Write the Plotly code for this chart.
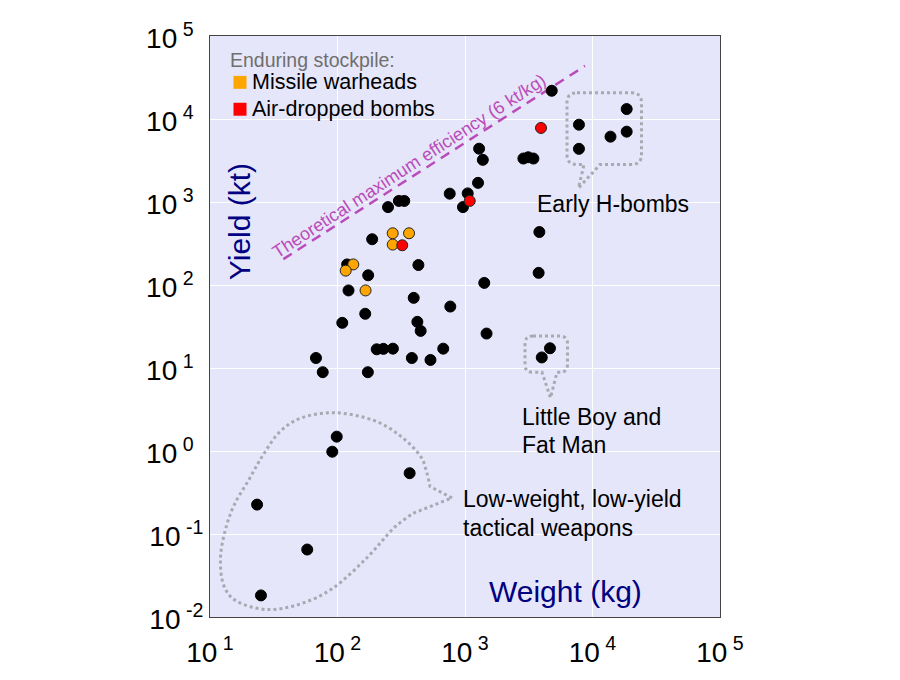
import plotly.graph_objects as go

# ---------------- data ----------------
black_weight_kg = [4790, 7830, 7830, 13840, 18540, 18540, 1290, 1380, 2870, 3130, 3440,
                   1265, 759, 1050, 964, 249, 303, 334, 3830, 3780, 187,
                   119, 174, 431, 122, 1416, 396, 767, 165, 109, 423,
                   449, 1476, 203, 229, 272, 675, 4640, 4000, 67.8, 383,
                   536, 76.6, 173, 98.6, 91.0, 368, 23.4, 57.9, 25.1]
black_yield_kt = [21900, 8540, 4370, 6130, 13180, 7040, 4390, 3220, 3340, 3460, 3340,
                  1700, 1260, 1270, 868, 868, 1030, 1030, 435, 140, 356,
                  177, 131, 174, 86, 106, 70, 55, 45, 35, 36,
                  28, 26, 16.8, 17.0, 17.1, 17.1, 17.3, 13.4, 13.2, 13.2,
                  12.5, 8.9, 8.9, 1.49, 0.98, 0.54, 0.226, 0.065, 0.0182]
missile_weight_kg = [271, 364, 271, 133, 116, 166]
missile_yield_kt = [420, 420, 307, 177, 149, 86]
bomb_weight_kg = [3945, 1089, 322]
bomb_yield_kt = [7800, 1030, 301]
limit_weight_kg = [37.6, 8730]
limit_yield_kt = [205, 43600]

x_tickvals = [10, 100, 1000, 10000, 100000]
x_ticktext = ["10<sup> 1</sup>", "10<sup> 2</sup>", "10<sup> 3</sup>", "10<sup> 4</sup>", "10<sup> 5</sup>"]
y_tickvals = [0.01, 0.1, 1, 10, 100, 1000, 10000, 100000]
y_ticktext = ["10<sup> -2</sup>", "10<sup> -1</sup>", "10<sup> 0\u2002</sup>", "10<sup> 1\u2002</sup>",
              "10<sup> 2\u2002</sup>", "10<sup> 3\u2002</sup>", "10<sup> 4\u2002</sup>", "10<sup> 5\u2002</sup>"]

# ---------------- layout geometry ----------------
W, H = 900, 680
ML, MR, MT, MB = 210, 180, 36, 61
PW, PH = W - ML - MR, H - MT - MB
FONT = "Liberation Sans, Arial, sans-serif"
NAVY = "#000080"
MAG = "#b94cb9"
DOTC = "#a9a9b2"


def xp(px):
    return (px - ML) / PW


def yp(py):
    return (H - MB - py) / PH


def P(x, y):
    return f"{xp(x):.5f},{yp(y):.5f}"


def rounded_callout(x0, x1, y0, y1, r, tail_right, tip, tail_left):
    return (f"M {P(x0 + r, y0)} L {P(x1 - r, y0)} Q {P(x1, y0)} {P(x1, y0 + r)} "
            f"L {P(x1, y1 - r)} Q {P(x1, y1)} {P(x1 - r, y1)} "
            f"L {P(tail_right, y1)} L {P(*tip)} L {P(tail_left, y1)} "
            f"L {P(x0 + r, y1)} Q {P(x0, y1)} {P(x0, y1 - r)} "
            f"L {P(x0, y0 + r)} Q {P(x0, y0)} {P(x0 + r, y0)} Z")


def smooth_path(pts, tip):
    # Catmull-Rom through pts (open), then straight to tip and close
    ext = [tip] + pts + [tip]
    s = f"M {P(*tip)} L {P(*pts[0])} "
    for i in range(1, len(ext) - 2):
        p0, p1, p2, p3 = ext[i - 1], ext[i], ext[i + 1], ext[i + 2]
        if i == 1:
            p0 = p1
        if i == len(ext) - 3:
            p3 = p2
        c1 = (p1[0] + (p2[0] - p0[0]) / 6, p1[1] + (p2[1] - p0[1]) / 6)
        c2 = (p2[0] - (p3[0] - p1[0]) / 6, p2[1] - (p3[1] - p1[1]) / 6)
        s += f"C {P(*c1)} {P(*c2)} {P(*p2)} "
    s += "Z"
    return s


tactical_outline = [(430, 488), (426.5, 473), (420, 457), (400, 437), (373, 421.5), (335, 414),
                    (302, 419), (280, 433), (263, 456.5), (249, 481), (234, 507), (225, 533),
                    (220.5, 560), (223.5, 586.5), (236.5, 603), (266.5, 611.5), (300, 606),
                    (333, 590), (366.5, 560), (393.5, 530), (413, 515)]

fig = go.Figure()

fig.add_trace(go.Scatter(x=limit_weight_kg, y=limit_yield_kt, mode="lines",
                         line=dict(color=MAG, width=2.5, dash="10px,7px"),
                         hoverinfo="skip", showlegend=False))
fig.add_trace(go.Scatter(x=black_weight_kg, y=black_yield_kt, mode="markers",
                         marker=dict(color="black", size=11, line=dict(color="black", width=1)),
                         showlegend=False))
fig.add_trace(go.Scatter(x=missile_weight_kg, y=missile_yield_kt, mode="markers",
                         marker=dict(color="#FFA500", size=11, line=dict(color="#222", width=1)),
                         showlegend=False))
fig.add_trace(go.Scatter(x=bomb_weight_kg, y=bomb_yield_kt, mode="markers",
                         marker=dict(color="#FF0000", size=11, line=dict(color="#222", width=1)),
                         showlegend=False))

shapes = [
    dict(type="path", xref="paper", yref="paper",
         path=rounded_callout(567, 641.5, 93, 165, 10, 600, (578.5, 188.5), 584),
         line=dict(color=DOTC, width=3, dash="dot")),
    dict(type="path", xref="paper", yref="paper",
         path=rounded_callout(525, 567.5, 337, 373.5, 8, 557, (550.5, 399), 542),
         line=dict(color=DOTC, width=3, dash="dot")),
    dict(type="path", xref="paper", yref="paper",
         path=smooth_path(tactical_outline, (452, 499.5)),
         line=dict(color=DOTC, width=3, dash="dot")),
    dict(type="rect", xref="paper", yref="paper",
         x0=xp(233.5), x1=xp(246.5), y0=yp(89), y1=yp(76),
         fillcolor="#FFA500", line=dict(width=0)),
    dict(type="rect", xref="paper", yref="paper",
         x0=xp(233.5), x1=xp(246.5), y0=yp(116), y1=yp(103),
         fillcolor="#FF0000", line=dict(width=0)),
]


def label(text, left, cy, size, color="black", **kw):
    return dict(text=text, xref="paper", yref="paper", x=xp(left - 2), y=yp(cy),
                xanchor="left", yanchor="middle", showarrow=False,
                font=dict(family=FONT, size=size, color=color), **kw)


annotations = [
    label("Enduring stockpile:", 230, 60, 19.5, "#6f6f6f"),
    label("Missile warheads", 252.3, 82.2, 21.5),
    label("Air-dropped bombs", 252.3, 109.7, 21.5),
    label("Early H-bombs", 536.7, 204.7, 23),
    label("Little Boy and", 521.7, 418, 23),
    label("Fat Man", 521.7, 446.8, 23),
    label("Low-weight, low-yield", 463.3, 500.5, 23),
    label("tactical weapons", 463.3, 529.2, 23),
    dict(text="Weight (kg)", xref="paper", yref="paper", x=xp(565), y=yp(593),
         xanchor="center", yanchor="middle", showarrow=False,
         font=dict(family=FONT, size=30, color=NAVY)),
    dict(text="Yield (kt)", xref="paper", yref="paper", x=xp(239.5), y=yp(222.3),
         xanchor="center", yanchor="middle", showarrow=False, textangle=-90,
         font=dict(family=FONT, size=30, color=NAVY)),
    dict(text="Theoretical maximum efficiency (6 kt/kg)", xref="paper", yref="paper",
         x=xp(409), y=yp(166), xanchor="center", yanchor="middle", showarrow=False,
         textangle=-33, font=dict(family=FONT, size=18, color=MAG)),
]

axis_common = dict(type="log", showgrid=True, gridcolor="white", gridwidth=1,
                   showline=True, mirror=True, linecolor="#444", linewidth=1,
                   ticks="", zeroline=False,
                   tickfont=dict(family=FONT, size=28, color="black"))

fig.update_layout(
    width=W, height=H, autosize=False,
    margin=dict(l=ML, r=MR, t=MT, b=MB, pad=0),
    paper_bgcolor="white", plot_bgcolor="#e6e6fa",
    xaxis=dict(range=[1, 5], tickmode="array", tickvals=x_tickvals, ticktext=x_ticktext,
               ticklabelstandoff=10, **axis_common),
    yaxis=dict(range=[-2, 5], tickmode="array", tickvals=y_tickvals, ticktext=y_ticktext,
               ticklabelstandoff=0, ticklabelshift=2, **axis_common),
    shapes=shapes, annotations=annotations,
    hovermode=False,
)

fig.write_html("out.html", config={"displayModeBar": False},
               post_script="document.body.style.margin='0';")
